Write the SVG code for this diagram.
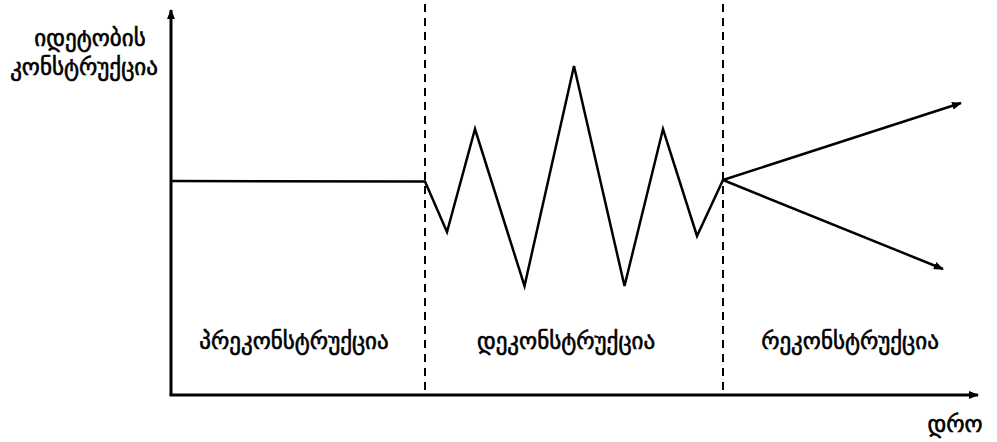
<svg xmlns="http://www.w3.org/2000/svg" width="997" height="442" viewBox="0 0 997 442">
<style>
text{font-family:"DejaVu Sans","Noto Sans",sans-serif;font-size:23px;fill:#000;stroke:#000;stroke-width:0.6;text-anchor:middle}
.ax{stroke:#000;stroke-width:3;fill:none}
.ln{stroke:#000;stroke-width:2.5;fill:none;stroke-linejoin:miter}
.dash{stroke:#000;stroke-width:2;stroke-dasharray:8,6;fill:none}
</style>
<defs>
<marker id="ah" markerWidth="10" markerHeight="8" refX="9" refY="4" orient="auto" markerUnits="userSpaceOnUse">
<path d="M0,0 L10,4 L0,8 Z" fill="#000"/>
</marker>
</defs>
<rect width="997" height="442" fill="#fff"/>
<g id="connectors">
<line class="ax" x1="171" y1="395" x2="171" y2="10" marker-end="url(#ah)"/>
<line class="ax" x1="169.5" y1="395" x2="978" y2="395" marker-end="url(#ah)"/>
<line class="dash" x1="425" y1="4" x2="425" y2="392"/>
<line class="dash" x1="723" y1="4" x2="723" y2="392"/>
<polyline class="ln" points="171,181 425,181.5 447,232 475,129 524.5,286 574,66 624.5,286 663,129 697,236 723,180"/>
<line class="ln" x1="723" y1="180" x2="961" y2="103" marker-end="url(#ah)"/>
<line class="ln" x1="723" y1="180" x2="943" y2="269" marker-end="url(#ah)"/>
</g>
<g id="y-label">
<text x="90" y="46">იდეტობის</text>
<text x="84" y="75">კონსტრუქცია</text>
</g>
<g id="pre"><text x="294" y="349">პრეკონსტრუქცია</text></g>
<g id="de"><text x="566" y="349">დეკონსტრუქცია</text></g>
<g id="re"><text x="850" y="349">რეკონსტრუქცია</text></g>
<g id="time"><text x="955" y="432">დრო</text></g>
</svg>
